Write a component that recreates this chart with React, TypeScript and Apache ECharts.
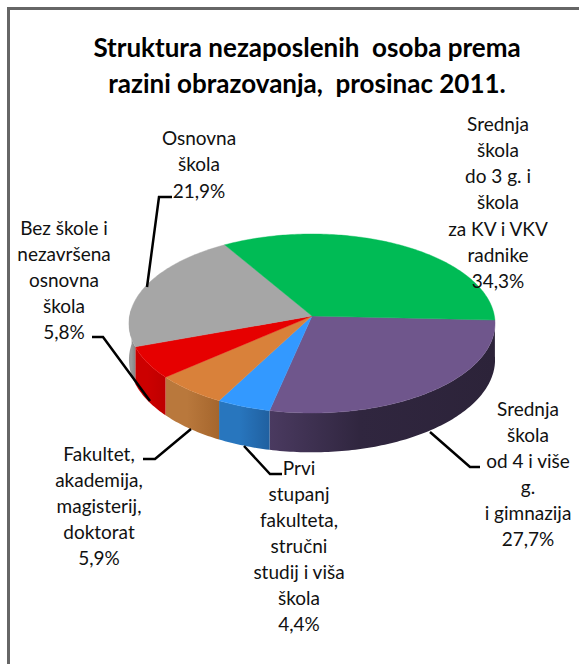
import React, { useEffect, useRef } from "react";
import * as echarts from "echarts";

const titleLines = ["Struktura nezaposlenih  osoba prema", "razini obrazovanja,  prosinac 2011."];
const categories = [
  ["Srednja", "škola", "od 4 i više", "g.", "i gimnazija"],
  ["Prvi", "stupanj", "fakulteta,", "stručni", "studij i viša", "škola"],
  ["Fakultet,", "akademija,", "magisterij,", "doktorat"],
  ["Bez škole i", "nezavršena", "osnovna", "škola"],
  ["Osnovna", "škola"],
  ["Srednja", "škola", "do 3 g. i", "škola", "za KV i VKV", "radnike"],
];
const values = [27.7, 4.4, 5.9, 5.8, 21.9, 34.3];
const topColors = ["#6F568C", "#3399FF", "#D9813A", "#E60000", "#A6A6A6", "#00BB55"];
const sideLeft = ["#4A3A60", "#2876BE", "#B9783C", "#CC0000", "#9A9A9A", "#009944"];
const sideRight = ["#2C2339", "#2060A0", "#A5662D", "#BE0000", "#858585", "#009944"];

// label layout: centre x, first-line y, line step
const labelPos = [
  [528, 408, 26],
  [299, 467, 26],
  [99, 453, 26.2],
  [64, 227, 26],
  [199, 137, 26.5],
  [498, 123, 26.3],
];
const leaders = [
  [[430, 432], [470, 467], [480, 467]],
  [[244, 446], [270, 474], [282, 474]],
  [[191, 429], [155, 459], [143, 459]],
  [[150, 401], [103, 337], [92, 337]],
  [[147, 287], [159, 197], [172, 197]],
];

const CX = 312, CY = 316, RX = 182.4, RY = 88.9, K = 0.0838, DEPTH = 36, START = 2.6;
const FONT = "Lato, Carlito, Calibri, sans-serif";

function rim(deg: number, drop: number): number[] {
  const t = (deg * Math.PI) / 180;
  const s = 1 / (1 - K * Math.sin(t));
  return [CX + RX * Math.cos(t) * s, CY + (RY * Math.sin(t) + drop) * s];
}

function renderItem(params: any, api: any) {
  const i = params.dataIndex;
  const total = values.reduce((a, b) => a + b, 0);
  const before = values.slice(0, i).reduce((a, b) => a + b, 0);
  const a0 = START + (before / total) * 360;
  const a1 = a0 + (api.value(0) / total) * 360;
  const n = Math.max(4, Math.ceil(a1 - a0));
  const top: number[][] = [[CX, CY]];
  for (let j = 0; j <= n; j++) top.push(rim(a0 + ((a1 - a0) * j) / n, 0));

  const children: any[] = [];
  // the wall is only visible on the front half, between the silhouette angles
  const s0 = Math.max(a0, -5);
  const s1 = Math.min(a1, 185);
  if (s1 > s0) {
    const upper: number[][] = [];
    const lower: number[][] = [];
    const m = Math.max(2, Math.ceil(s1 - s0));
    for (let j = 0; j <= m; j++) {
      const d = s0 + ((s1 - s0) * j) / m;
      upper.push(rim(d, 0));
      lower.push(rim(d, DEPTH));
    }
    children.push({
      type: "polygon",
      shape: { points: upper.concat(lower.reverse()) },
      style: {
        fill: {
          type: "linear", x: 0, y: 0, x2: 1, y2: 0,
          colorStops: [
            { offset: 0, color: sideLeft[i] },
            { offset: 0.4, color: i === 0 ? "#30263F" : sideLeft[i] },
            { offset: 1, color: sideRight[i] },
          ],
        },
      },
    });
  }
  children.push({
    type: "polygon",
    shape: { points: top },
    style: { fill: topColors[i], stroke: topColors[i], lineWidth: 0.4 },
  });
  return { type: "group", children };
}

export default function App() {
  const ref = useRef<HTMLDivElement>(null);
  useEffect(() => {
    const chart = echarts.init(ref.current!, null, { renderer: "svg" });
    const graphic: any[] = [
      { type: "rect", shape: { x: 0, y: 0, width: 579, height: 664 }, style: { fill: "#FFFFFF" }, z: -1 },
      { type: "polyline", shape: { points: [[8.5, 664], [8.5, 8.5], [579, 8.5]] }, style: { stroke: "#666666", lineWidth: 3, fill: "none" } },
    ];
    titleLines.forEach((t, i) => {
      graphic.push({
        type: "text", x: 307, y: 47 + i * 36,
        style: { text: t, fill: "#000", font: `bold 26px ${FONT}`, align: "center", verticalAlign: "middle" },
      });
    });
    categories.forEach((lines, i) => {
      const pct = values[i].toFixed(1).replace(".", ",") + "%";
      const [x, y, step] = labelPos[i];
      [...lines, pct].forEach((t, j) => {
        graphic.push({
          type: "text", x, y: y + j * step,
          style: { text: t, fill: "#111", font: `19px ${FONT}`, align: "center", verticalAlign: "middle" },
          z: 5,
        });
      });
    });
    leaders.forEach((pts) => {
      graphic.push({
        type: "polyline", shape: { points: pts },
        style: { stroke: "#000", lineWidth: 2.5, fill: "none" }, z: 6,
      });
    });
    chart.setOption({
      animation: false,
      backgroundColor: "#FFFFFF",
      graphic,
      series: [{
        type: "custom", coordinateSystem: "none", renderItem,
        data: values.map((v) => [v]), silent: true, z: 3,
      }],
    });
    return () => chart.dispose();
  }, []);
  return <div ref={ref} style={{ position: "absolute", left: 0, top: 0, width: 579, height: 664 }} />;
}
